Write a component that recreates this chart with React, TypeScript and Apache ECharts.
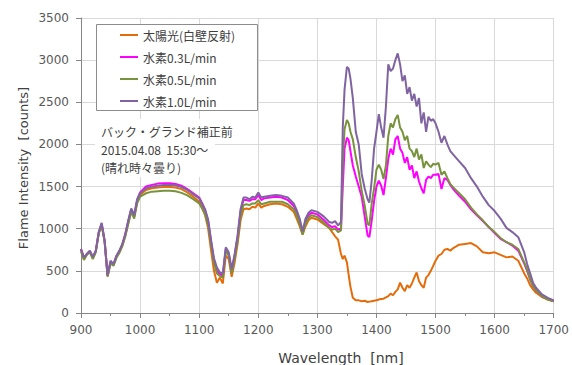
import React, { useEffect, useRef } from "react";
import * as echarts from "echarts";

const wavelengths = [
  900, 905, 910, 915, 920, 925, 930, 935, 940, 945,
  950, 955, 960, 965, 970, 975, 980, 985, 990, 995,
  1000, 1010, 1020, 1030, 1040, 1050, 1060, 1070, 1080, 1090,
  1100, 1105, 1110, 1115, 1120, 1125, 1130, 1135, 1140, 1145,
  1150, 1155, 1160, 1165, 1170, 1175, 1180, 1185, 1190, 1195,
  1200, 1205, 1210, 1220, 1230, 1240, 1250, 1260, 1265, 1270,
  1275, 1280, 1285, 1290, 1300, 1310, 1320, 1325, 1330, 1335,
  1340, 1343, 1346, 1350, 1353, 1356, 1360, 1365, 1370, 1375,
  1380, 1385, 1388, 1392, 1396, 1400, 1404, 1408, 1412, 1416,
  1420, 1424, 1428, 1432, 1436, 1440, 1444, 1448, 1452, 1456,
  1460, 1464, 1468, 1472, 1476, 1480, 1484, 1488, 1492, 1496,
  1500, 1505, 1510, 1515, 1520, 1525, 1530, 1540, 1550, 1560,
  1570, 1580, 1590, 1600, 1610, 1620, 1630, 1640, 1650, 1655,
  1660, 1665, 1670, 1680, 1690, 1700,
];

const sunlight = [
  750, 640, 700, 730, 650, 730, 950, 1050, 850, 440,
  600, 570, 665, 725, 805, 920, 1070, 1210, 1140, 1320,
  1400, 1460, 1480, 1490, 1495, 1495, 1490, 1470, 1430, 1380,
  1320, 1250, 1160, 1010, 750, 500, 360, 420, 350, 680,
  640, 430, 600, 820, 1100, 1230, 1240, 1230, 1260, 1250,
  1300, 1250, 1270, 1290, 1300, 1290, 1260, 1200, 1120, 1030,
  930, 1030, 1100, 1130, 1110, 1060, 1010, 960, 910, 870,
  700, 640, 680, 600, 450, 310, 180, 150, 150, 140,
  145, 130, 135, 140, 145, 150, 160, 165, 170, 185,
  200, 230, 210, 250, 280, 360, 300, 260, 330, 300,
  350, 420, 480, 380, 330, 300, 420, 450, 500, 560,
  620, 680, 700, 750, 760, 740, 770, 810, 820, 830,
  790, 720, 710, 720, 690, 660, 670, 620, 470, 410,
  330, 280, 240, 190, 160, 140,
];

const h2_03 = [
  760, 650, 700, 735, 660, 735, 950, 1060, 850, 440,
  610, 575, 675, 735, 815, 935, 1090, 1230, 1150, 1340,
  1430, 1500, 1520, 1535, 1540, 1540, 1530, 1510, 1470, 1420,
  1370, 1300, 1220, 1100, 850, 620, 500, 460, 440, 760,
  700, 490, 680, 900, 1200, 1340, 1340, 1330, 1350, 1350,
  1400, 1340, 1360, 1370, 1380, 1370, 1340, 1270, 1190, 1090,
  950, 1090, 1160, 1190, 1170, 1110, 1040, 1020, 1030, 990,
  1000, 1500, 1950, 2080, 2050, 1920, 1750, 1620, 1500, 1380,
  1150, 920, 900, 1100, 1330, 1500, 1570, 1510, 1400, 1600,
  1830, 1950, 1880, 2060, 2100, 1950, 1900, 1780, 1850, 1700,
  1750, 1600, 1680, 1560, 1480, 1420, 1580, 1620, 1600, 1640,
  1640, 1650, 1470, 1600, 1580, 1520, 1470, 1390, 1320, 1230,
  1160, 1090, 1020, 950, 880, 840, 800, 740, 590, 500,
  400, 320, 270, 200, 165, 140,
];

const h2_05 = [
  730, 630, 690, 720, 640, 720, 940, 1040, 840, 430,
  590, 560, 655, 715, 795, 910, 1060, 1200, 1120, 1300,
  1380, 1420, 1440, 1445, 1450, 1450, 1445, 1425, 1395, 1350,
  1300, 1240, 1170, 1050, 820, 600, 470, 440, 420, 740,
  680, 470, 650, 860, 1150, 1280, 1290, 1280, 1300, 1300,
  1340, 1290, 1300, 1320, 1320, 1320, 1290, 1230, 1160, 1060,
  930, 1060, 1130, 1160, 1140, 1080, 1010, 990, 1000, 960,
  980, 1800, 2180, 2290, 2250, 2150, 2060, 1850, 1680, 1450,
  1280, 1060, 1040, 1300, 1480, 1700, 1760, 1700, 1590, 1750,
  2100, 2250, 2200, 2300, 2350, 2200, 2150, 2050, 2100, 1950,
  1920, 1850, 1950, 1820, 1880, 1720, 1800, 1760, 1730, 1770,
  1760, 1780, 1640, 1680, 1600, 1530, 1490, 1420, 1350, 1250,
  1170, 1100, 1020, 960, 890, 840, 810, 760, 600, 510,
  400, 320, 270, 200, 160, 140,
];

const h2_10 = [
  760, 660, 700, 740, 665, 740, 960, 1070, 860, 450,
  620, 580, 680, 740, 820, 940, 1100, 1240, 1160, 1350,
  1420, 1480, 1500, 1510, 1520, 1520, 1515, 1495, 1460, 1410,
  1360, 1300, 1230, 1110, 870, 650, 540, 480, 470, 780,
  720, 520, 700, 920, 1230, 1370, 1370, 1350, 1380, 1370,
  1430, 1370, 1380, 1390, 1400, 1390, 1370, 1300, 1220, 1120,
  970, 1120, 1190, 1220, 1200, 1150, 1080, 1070, 1090, 1040,
  1080, 2200, 2650, 2920, 2900, 2780, 2550, 2150, 2000, 1650,
  1480, 1350, 1310, 1580, 1950, 2150, 2360, 2200, 2080, 2450,
  2950, 2870, 2900, 3000, 3080, 2950, 2750, 2820, 2600, 2680,
  2520, 2600, 2450, 2550, 2250, 2380, 2150, 2330, 2280, 2300,
  2250, 2150, 2020, 2100, 2000, 1920, 1880, 1800, 1720, 1600,
  1500, 1380, 1280, 1210, 1120, 1010, 960, 900, 720, 580,
  470, 360, 300, 220, 180, 150,
];

const seriesNames = ["太陽光(白壁反射)", "水素0.3L/min", "水素0.5L/min", "水素1.0L/min"];
const seriesColors = ["#E46C0A", "#FF00FF", "#77933C", "#8064A2"];
const seriesValues = [sunlight, h2_03, h2_05, h2_10];

const noteLines = ["バック・グランド補正前", "2015.04.08  15:30～", "(晴れ時々曇り)"];

export default function App() {
  const ref = useRef<HTMLDivElement>(null);
  useEffect(() => {
    if (!ref.current) return;
    const chart = echarts.init(ref.current, undefined, { renderer: "svg" });
    const latin = "'DejaVu Sans', sans-serif";
    const jp = "'Noto Sans CJK JP', sans-serif";
    chart.setOption({
      animation: false,
      backgroundColor: "#ffffff",
      grid: { left: 81, right: 16, top: 18, bottom: 52, containLabel: false },
      xAxis: {
        type: "value",
        min: 900,
        max: 1700,
        interval: 100,
        axisLine: { show: true, onZero: false, lineStyle: { color: "#868686", width: 1 } },
        axisTick: { show: true, length: 5, lineStyle: { color: "#868686" } },
        minorTick: { show: true, splitNumber: 2, length: 3, lineStyle: { color: "#868686" } },
        axisLabel: {
          color: "#595959",
          fontSize: 12,
          fontFamily: latin,
          margin: 11,
          formatter: (v: number) => String(v),
        },
        splitLine: { show: true, lineStyle: { color: "#d9d9d9", width: 1 } },
      },
      yAxis: {
        type: "value",
        min: 0,
        max: 3500,
        interval: 500,
        axisLine: { show: true, lineStyle: { color: "#868686", width: 1 } },
        axisTick: { show: true, length: 5, lineStyle: { color: "#868686" } },
        axisLabel: {
          color: "#595959",
          fontSize: 12,
          fontFamily: latin,
          margin: 12,
          formatter: (v: number) => String(v),
        },
        splitLine: { show: true, lineStyle: { color: "#d9d9d9", width: 1 } },
      },
      legend: {
        show: true,
        orient: "vertical",
        left: 120,
        top: 28,
        itemWidth: 18,
        itemHeight: 2,
        itemGap: 8,
        icon: "rect",
        padding: 0,
        z: 10,
        data: seriesNames,
        textStyle: { color: "#404040", fontSize: 12, fontFamily: jp, lineHeight: 14 },
      },
      graphic: [
        {
          type: "rect",
          z: 5,
          shape: { x: 96.5, y: 24.5, width: 161, height: 86 },
          style: { fill: "#ffffff", stroke: "#8c8c8c", lineWidth: 1 },
        },
        {
          type: "rect",
          z: 5,
          shape: { x: 95, y: 119, width: 120, height: 58 },
          style: { fill: "#ffffff" },
        },
        ...noteLines.map((t, i) => ({
          type: "text",
          z: 6,
          x: 101,
          y: 131 + i * 18,
          style: {
            text: t,
            fill: "#404040",
            fontSize: 12,
            fontFamily: jp,
            textVerticalAlign: "middle",
            textAlign: "left",
          },
        })),
        {
          type: "text",
          z: 6,
          x: 23,
          y: 168,
          rotation: Math.PI / 2,
          style: {
            text: "Flame Intensity  [counts]",
            fill: "#404040",
            fontSize: 13,
            fontFamily: latin,
            textAlign: "center",
            textVerticalAlign: "middle",
          },
        },
        {
          type: "text",
          z: 6,
          x: 341,
          y: 358,
          style: {
            text: "Wavelength  [nm]",
            fill: "#404040",
            fontSize: 14,
            fontFamily: latin,
            textAlign: "center",
            textVerticalAlign: "middle",
          },
        },
      ],
      series: seriesNames.map((name, k) => ({
        name,
        type: "line",
        showSymbol: false,
        symbol: "none",
        color: seriesColors[k],
        lineStyle: { width: 2, color: seriesColors[k] },
        data: wavelengths.map((w, i) => [w, seriesValues[k][i]]),
        z: 2 + k,
      })),
    });
    return () => chart.dispose();
  }, []);
  return (
    <div
      ref={ref}
      style={{ position: "fixed", left: 0, top: 0, width: 572, height: 365, background: "#fff" }}
    />
  );
}
